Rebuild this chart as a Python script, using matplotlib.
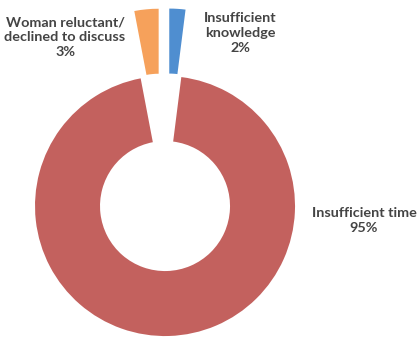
import matplotlib.pyplot as plt

labels = ["Insufficient\nknowledge\n2%", "Insufficient time\n95%", "Woman reluctant/\ndeclined to discuss\n3%"]
values = [2, 95, 3]
colors = ["#4F8ED0", "#F6A15B", "#C3615E"]
slice_colors = [colors[0], colors[2], colors[1]]
explode = [0.52, 0.0, 0.52]

# label centres in data units (pie radius = 1)
label_pos = [(0.577, 1.331), (1.531, -0.108), (-0.769, 1.30)]

fig = plt.figure(figsize=(4.17, 3.38), dpi=100)
ax = fig.add_axes([0, 0, 1, 1])

ax.pie(values, colors=slice_colors, explode=explode, startangle=90,
       counterclock=False, radius=1.0,
       wedgeprops=dict(width=0.5, linewidth=0))

for text, (x, y) in zip(labels, label_pos):
    ax.text(x, y, text, ha="center", va="center", fontsize=10.4,
            family="Lato", fontweight="bold", color="#444444", linespacing=1.3)

ax.set_xlim(-1.269, 1.938)
ax.set_ylim(-1.015, 1.585)
ax.set_aspect("equal")
ax.axis("off")

fig.savefig("out.png", dpi=100)
